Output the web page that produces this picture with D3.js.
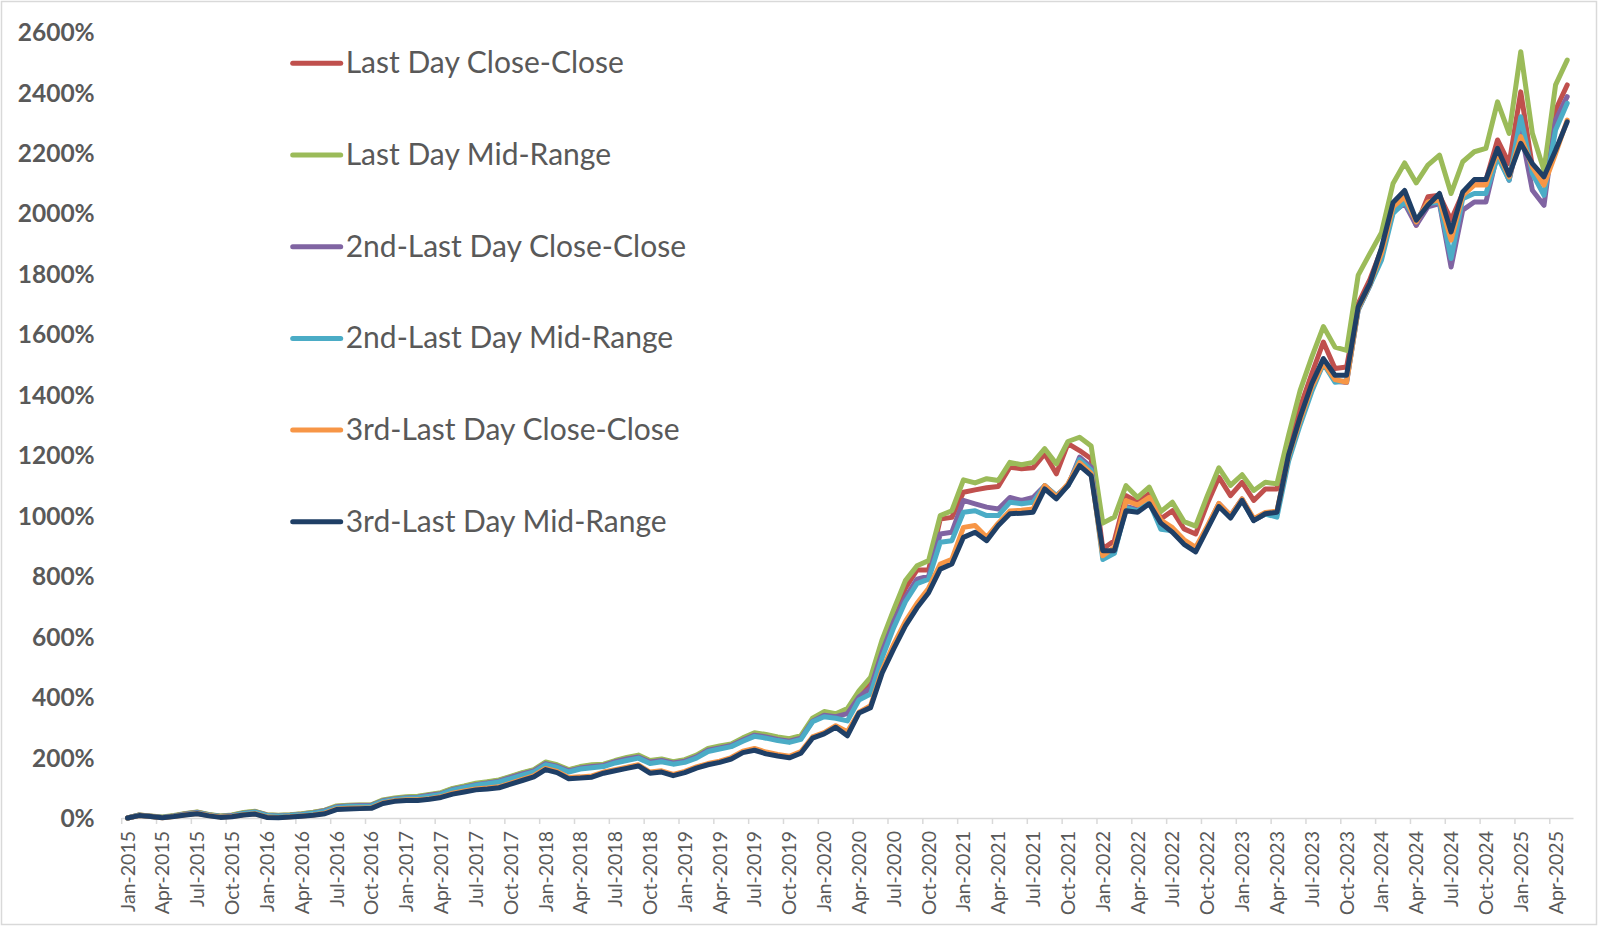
<!DOCTYPE html>
<html>
<head>
<meta charset="utf-8">
<script src="https://cdn.jsdelivr.net/npm/d3@7"></script>
<style>
  body { margin: 0; background: #ffffff; }
  svg { display: block; }
</style>
</head>
<body>
<div id="chart"></div>
<script>
// cumulative returns of six month-end timing variants, Jan-2015 to May-2025

// categories: one per month
const months = d3.timeMonth.range(new Date(2015, 0, 1), new Date(2025, 5, 1))
                 .map(d3.timeFormat("%b-%Y"));

// y axis tick values (percent)
const yTicks = [0, 200, 400, 600, 800, 1000, 1200, 1400, 1600, 1800, 2000, 2200, 2400, 2600];

// series names
const seriesNames = [
  "Last Day Close-Close",
  "Last Day Mid-Range",
  "2nd-Last Day Close-Close",
  "2nd-Last Day Mid-Range",
  "3rd-Last Day Close-Close",
  "3rd-Last Day Mid-Range"
];

// series values (percent)
const lastClose = [
  0, 10, 6, 2, 7, 14, 19, 11, 6, 9, 17, 21,
  10, 8, 10, 13, 18, 25, 38, 41, 42, 43, 58, 64,
  68, 70, 76, 82, 96, 104, 112, 118, 124, 136, 148, 158,
  182, 173, 158, 168, 173, 176, 188, 198, 205, 188, 193, 184,
  191, 205, 227, 235, 242, 262, 278, 272, 264, 258, 268, 325,
  345, 340, 355, 405, 450, 570, 670, 760, 820, 820, 989, 994,
  1077, 1085, 1092, 1096, 1160, 1155, 1158, 1204, 1138, 1238, 1215, 1188,
  890, 917, 1066, 1044, 1072, 989, 1016, 956, 939, 1039, 1127, 1066,
  1110, 1050, 1088, 1088, 1240, 1359, 1469, 1574, 1486, 1491, 1701, 1780,
  1880, 2021, 2059, 1960, 2054, 2059, 1977, 2065, 2109, 2109, 2242, 2164,
  2401, 2153, 2098, 2341, 2424
];

const lastMid = [
  0, 10, 7, 3, 8, 15, 20, 12, 7, 10, 18, 22,
  11, 9, 11, 14, 19, 26, 40, 42, 43, 44, 60, 66,
  70, 72, 78, 84, 98, 106, 115, 120, 126, 138, 150, 160,
  185, 176, 160, 170, 176, 178, 190, 200, 208, 190, 195, 186,
  193, 208, 230, 238, 245, 265, 282, 276, 268, 262, 272, 330,
  352, 345, 362, 420, 465, 590, 690, 785, 834, 851, 1000, 1016,
  1118, 1108, 1122, 1116, 1176, 1168, 1176, 1221, 1171, 1245, 1259, 1230,
  975, 995, 1099, 1060, 1094, 1013, 1044, 980, 965, 1065, 1158, 1100,
  1135, 1083, 1110, 1105, 1265, 1414, 1524, 1625, 1557, 1546, 1795, 1866,
  1935, 2098, 2166, 2100, 2159, 2192, 2065, 2170, 2203, 2214, 2368, 2264,
  2534, 2264, 2142, 2424, 2506
];

const secondClose = [
  0, 9, 6, 2, 7, 13, 18, 10, 5, 8, 16, 20,
  9, 7, 9, 12, 17, 24, 37, 40, 41, 42, 57, 63,
  67, 69, 75, 80, 94, 102, 110, 116, 122, 134, 146, 156,
  180, 171, 156, 165, 170, 174, 186, 195, 202, 185, 190, 182,
  188, 202, 224, 232, 240, 258, 274, 268, 260, 254, 264, 320,
  340, 335, 345, 400, 430, 550, 650, 730, 790, 800, 939, 945,
  1050, 1039, 1028, 1022, 1060, 1050, 1060, 1099, 1066, 1099, 1193, 1160,
  870, 880, 1030, 1020, 1050, 970, 955, 915, 890, 960, 1040, 1000,
  1055, 985, 1005, 1010, 1190, 1310, 1420, 1505, 1445, 1440, 1680, 1760,
  1867, 2004, 2032, 1960, 2021, 2032, 1822, 2010, 2037, 2037, 2197, 2109,
  2275, 2076, 2026, 2308, 2385
];

const secondMid = [
  0, 9, 5, 2, 6, 12, 17, 10, 5, 7, 15, 19,
  8, 6, 8, 11, 16, 22, 35, 38, 39, 40, 55, 61,
  65, 67, 72, 78, 92, 100, 108, 113, 119, 130, 142, 152,
  176, 168, 152, 162, 166, 170, 182, 190, 198, 180, 186, 178,
  184, 198, 220, 228, 236, 254, 270, 264, 256, 250, 260, 318,
  335, 330, 321, 390, 410, 530, 630, 715, 775, 790, 912, 917,
  1011, 1016, 1000, 1000, 1044, 1039, 1044, 1099, 1066, 1099, 1185, 1150,
  855, 875, 1025, 1015, 1045, 955, 950, 910, 885, 960, 1035, 995,
  1050, 985, 1005, 995, 1180, 1300, 1410, 1502, 1441, 1445, 1680, 1760,
  1844, 1999, 2037, 1977, 2032, 2037, 1850, 2048, 2065, 2065, 2186, 2109,
  2319, 2131, 2059, 2275, 2363
];

const thirdClose = [
  0, 8, 5, 1, 5, 11, 15, 8, 3, 5, 11, 14,
  3, 2, 4, 7, 10, 16, 30, 32, 33, 34, 50, 57,
  60, 60, 64, 70, 82, 89, 96, 99, 103, 115, 128, 140,
  164, 154, 134, 136, 139, 152, 160, 168, 176, 152, 156, 144,
  154, 169, 180, 188, 200, 221, 230, 218, 210, 204, 220, 268,
  282, 305, 285, 350, 371, 490, 575, 650, 710, 760, 840, 855,
  961, 967, 928, 975, 1015, 1018, 1022, 1099, 1062, 1105, 1175, 1140,
  867, 895, 1050, 1035, 1060, 985, 960, 920, 895, 965, 1040, 1000,
  1055, 990, 1010, 1015, 1195, 1315, 1425, 1505, 1450, 1441, 1685, 1765,
  1867, 2021, 2054, 1971, 2037, 2043, 1911, 2059, 2093, 2093, 2203, 2120,
  2253, 2153, 2093, 2197, 2308
];

const thirdMid = [
  0, 8, 5, 1, 5, 10, 14, 7, 2, 4, 10, 13,
  2, 1, 3, 6, 9, 14, 28, 30, 31, 32, 48, 55,
  58, 58, 62, 68, 79, 86, 93, 96, 100, 112, 124, 136,
  160, 150, 130, 132, 135, 148, 156, 164, 172, 148, 152, 140,
  150, 165, 176, 184, 195, 216, 224, 212, 205, 199, 214, 264,
  278, 300, 272, 347, 365, 480, 560, 635, 695, 745, 823, 840,
  928, 945, 917, 967, 1006, 1008, 1011, 1088, 1055, 1099, 1165, 1132,
  884, 884, 1016, 1011, 1039, 975, 945, 905, 880, 955, 1030, 992,
  1050, 983, 1006, 1011, 1200, 1326, 1436, 1519, 1464, 1464, 1690, 1767,
  1885, 2035, 2075, 1977, 2026, 2065, 1938, 2070, 2111, 2111, 2214, 2126,
  2231, 2164, 2120, 2208, 2302
];

const seriesValues = [lastClose, lastMid, secondClose, secondMid, thirdClose, thirdMid];
const seriesColors = ["#c0504d", "#9bbb59", "#8064a2", "#4bacc6", "#f79646", "#1f3f66"];

// sizes
const w = 1600, h = 928;
const plot = { left: 121.7, right: 1573, top: 31.7, bottom: 818 };
const fontFamily = "Lato, 'Open Sans', sans-serif";
const axisGrey = "#d9d9d9";
const labelGrey = "#595959";

// scales
const x = d3.scaleBand()
  .domain(months)
  .range([plot.left, plot.right])
  .paddingInner(0)
  .paddingOuter(0);
const bw = x.bandwidth();

const y = d3.scaleLinear()
  .domain([0, 2600])
  .range([plot.bottom, plot.top]);

// svg
const svg = d3.select("#chart")
  .append("svg")
  .attr("width", w)
  .attr("height", h);

svg.append("rect")
  .attr("width", w)
  .attr("height", h)
  .attr("fill", "#ffffff");

// outer frame of the chart
svg.append("rect")
  .attr("x", 1.5)
  .attr("y", 1.5)
  .attr("width", 1595)
  .attr("height", 923)
  .attr("fill", "none")
  .attr("stroke", axisGrey)
  .attr("stroke-width", 1.5);

// y axis (labels only)
svg.append("g")
  .attr("class", "axis")
  .attr("transform", `translate(${plot.left - 21},0)`)
  .call(d3.axisLeft(y).tickValues(yTicks).tickSize(0).tickPadding(6).tickFormat(d => d + "%"))
  .call(g => g.select(".domain").remove())
  .call(g => g.selectAll(".tick text")
    .attr("font-family", fontFamily)
    .attr("font-size", 24.5)
    .attr("font-weight", "bold")
    .attr("fill", labelGrey)
    .attr("dy", "0.36em"));

// x axis: ticks on category boundaries every 3 months, labels at category centres
const quarterMonths = months.filter((d, i) => i % 3 === 0);

svg.append("g")
  .attr("class", "axis")
  .attr("transform", `translate(0,${plot.bottom})`)
  .call(d3.axisBottom(x).tickValues(quarterMonths).tickSize(6).tickSizeOuter(0))
  .call(g => g.select(".domain").attr("stroke", axisGrey).attr("stroke-width", 1.5))
  .call(g => g.selectAll(".tick line")
    .attr("stroke", axisGrey)
    .attr("stroke-width", 1.5)
    .attr("x1", -bw / 2)
    .attr("x2", -bw / 2))
  .call(g => g.selectAll(".tick text")
    .attr("font-family", fontFamily)
    .attr("font-size", 19.5)
    .attr("fill", labelGrey)
    .attr("text-anchor", "end")
    .attr("transform", "translate(0,13) rotate(-90)")
    .attr("x", 0)
    .attr("y", 0)
    .attr("dy", "0.36em"));

// lines
const line = d3.line()
  .x((d, i) => x(months[i]) + bw / 2)
  .y(d => y(d));

svg.append("g")
  .selectAll("path")
  .data(seriesValues)
  .join("path")
    .attr("d", d => line(d))
    .attr("fill", "none")
    .attr("stroke", (d, i) => seriesColors[i])
    .attr("stroke-width", 5)
    .attr("stroke-linejoin", "round")
    .attr("stroke-linecap", "round");

// legend
const legend = svg.append("g")
  .selectAll("g")
  .data(seriesNames)
  .join("g")
    .attr("transform", (d, i) => `translate(292.7,${63.3 + i * 91.7})`);

legend.append("line")
  .attr("x1", 0)
  .attr("x2", 48)
  .attr("stroke", (d, i) => seriesColors[i])
  .attr("stroke-width", 5)
  .attr("stroke-linecap", "round");

legend.append("text")
  .attr("x", 53)
  .attr("y", 10)
  .style("font-family", fontFamily)
  .style("font-size", "30px")
  .style("fill", labelGrey)
  .text(d => d);
</script>
</body>
</html>
